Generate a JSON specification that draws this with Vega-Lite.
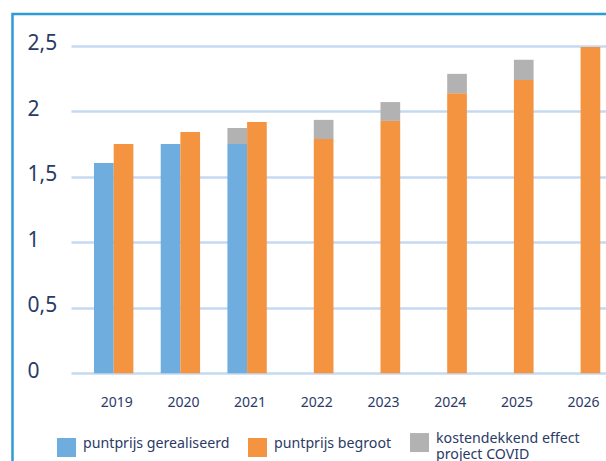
{
  "$schema": "https://vega.github.io/schema/vega-lite/v6.json",
  "width": 600,
  "height": 455,
  "autosize": {"type": "none"},
  "padding": {"left": 12.5, "top": 14, "right": -6.5, "bottom": -8},
  "background": "white",
  "config": {
    "view": {"stroke": "#2E9BD6", "strokeWidth": 2.5},
    "font": "Noto Sans"
  },
  "data": {
    "values": [
      {"year": "2019", "group": "gerealiseerd", "series": "puntprijs gerealiseerd", "value": 1.605},
      {"year": "2019", "group": "begroot", "series": "puntprijs begroot", "value": 1.75},
      {"year": "2020", "group": "gerealiseerd", "series": "puntprijs gerealiseerd", "value": 1.75},
      {"year": "2020", "group": "begroot", "series": "puntprijs begroot", "value": 1.842},
      {"year": "2021", "group": "gerealiseerd", "series": "puntprijs gerealiseerd", "value": 1.75},
      {"year": "2021", "group": "gerealiseerd", "series": "kostendekkend effect project COVID", "value": 0.122},
      {"year": "2021", "group": "begroot", "series": "puntprijs begroot", "value": 1.918},
      {"year": "2022", "group": "begroot", "series": "puntprijs begroot", "value": 1.788},
      {"year": "2022", "group": "begroot", "series": "kostendekkend effect project COVID", "value": 0.146},
      {"year": "2023", "group": "begroot", "series": "puntprijs begroot", "value": 1.926},
      {"year": "2023", "group": "begroot", "series": "kostendekkend effect project COVID", "value": 0.144},
      {"year": "2024", "group": "begroot", "series": "puntprijs begroot", "value": 2.137},
      {"year": "2024", "group": "begroot", "series": "kostendekkend effect project COVID", "value": 0.148},
      {"year": "2025", "group": "begroot", "series": "puntprijs begroot", "value": 2.239},
      {"year": "2025", "group": "begroot", "series": "kostendekkend effect project COVID", "value": 0.153},
      {"year": "2026", "group": "begroot", "series": "puntprijs begroot", "value": 2.49}
    ]
  },
  "mark": {"type": "bar"},
  "encoding": {
    "x": {
      "field": "year",
      "type": "ordinal",
      "scale": {"range": [58.5, 610.8], "paddingInner": 0.41, "paddingOuter": 0.345},
      "axis": {
        "title": null,
        "orient": "bottom",
        "offset": -95.7,
        "domain": false,
        "ticks": false,
        "tickSize": 0,
        "grid": false,
        "labelAngle": 0,
        "labelFont": "Noto Sans",
        "labelFontSize": 14,
        "labelColor": "#2B3A66",
        "labelPadding": 22,
        "labelOffset": 3
      }
    },
    "xOffset": {
      "field": "group",
      "scale": {"domain": ["gerealiseerd", "begroot"], "paddingInner": 0, "paddingOuter": 0}
    },
    "y": {
      "field": "value",
      "type": "quantitative",
      "stack": "zero",
      "scale": {"domain": [0, 2.5], "range": [359.3, 31.7], "nice": false, "zero": true},
      "axis": {
        "title": null,
        "values": [0, 0.5, 1, 1.5, 2, 2.5],
        "labelExpr": "replace(format(datum.value, ''), '.', ',')",
        "domain": false,
        "ticks": false,
        "tickSize": 0,
        "grid": true,
        "gridColor": "#C5D9F1",
        "gridWidth": 2.5,
        "labelAlign": "left",
        "labelBaseline": "middle",
        "labelPadding": -14.5,
        "labelOffset": -2,
        "labelFont": "Noto Sans",
        "labelFontSize": 21,
        "labelColor": "#2B3A66"
      }
    },
    "color": {
      "field": "series",
      "type": "nominal",
      "scale": {
        "domain": ["puntprijs gerealiseerd", "puntprijs begroot", "kostendekkend effect project COVID"],
        "range": ["#6EADDE", "#F49340", "#B2B2B2"]
      },
      "legend": {
        "title": null,
        "orient": "none",
        "legendX": 44.5,
        "legendY": 419,
        "direction": "horizontal",
        "padding": 0,
        "symbolType": "square",
        "symbolSize": 361,
        "symbolStrokeWidth": 0,
        "symbolOpacity": 1,
        "labelFont": "Noto Sans",
        "labelFontSize": 14.2,
        "labelColor": "#2B3A66",
        "labelOffset": 7,
        "labelLimit": 0,
        "columnPadding": 18,
        "labelBaseline": "alphabetic",
        "labelExpr": "datum.label == 'kostendekkend effect project COVID' ? ['kostendekkend effect', 'project COVID'] : datum.label"
      }
    },
    "order": {"field": "series", "sort": "descending"}
  }
}
